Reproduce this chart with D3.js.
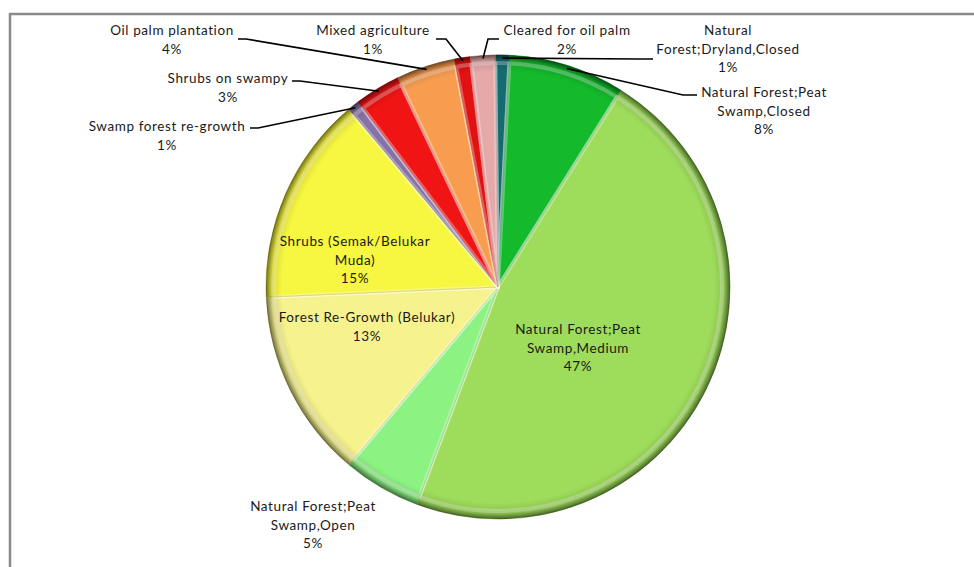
<!DOCTYPE html>
<html>
<head>
<meta charset="utf-8">
<script src="https://cdn.jsdelivr.net/npm/d3@7"></script>
<style>
  body { margin: 0; background: #fff; }
  text { font-family: Lato, "Open Sans", sans-serif; font-size: 13.5px; letter-spacing: 0.6px; fill: #1a1a1a; }
</style>
</head>
<body>
<div id="viz"></div>
<script>
var categories = [
    'Natural Forest;Dryland,Closed',
    'Natural Forest;Peat Swamp,Closed',
    'Natural Forest;Peat Swamp,Medium',
    'Natural Forest;Peat Swamp,Open',
    'Forest Re-Growth (Belukar)',
    'Shrubs (Semak/Belukar Muda)',
    'Swamp forest re-growth',
    'Shrubs on swampy',
    'Oil palm plantation',
    'Mixed agriculture',
    'Cleared for oil palm'
];
var shares = [1.0, 8.1, 46.8, 5.4, 13.2, 14.6, 0.8, 3.2, 4.1, 1.1, 1.7];
var labelLines = [
    ['Natural', 'Forest;Dryland,Closed'],
    ['Natural Forest;Peat', 'Swamp,Closed'],
    ['Natural Forest;Peat', 'Swamp,Medium'],
    ['Natural Forest;Peat', 'Swamp,Open'],
    ['Forest Re-Growth (Belukar)'],
    ['Shrubs (Semak/Belukar', 'Muda)'],
    ['Swamp forest re-growth'],
    ['Shrubs on swampy'],
    ['Oil palm plantation'],
    ['Mixed agriculture'],
    ['Cleared for oil palm']
];
var colors = ['#156b6e', '#14b92c', '#9edc5b', '#8cf383', '#f6f28d', '#f7f640',
              '#8672a6', '#f01414', '#f89d50', '#e01212', '#e4a9a8'];

var width = 974,
    height = 567,
    cx = 498,
    cy = 287,
    radius = 232,
    lineH = 18.5;

// label placement: x, first baseline, leader elbow (null = inside)
var layout = [
    { x: 728, y: 35, leader: [[653, 59], [640, 59]] },
    { x: 764, y: 97, leader: [[697, 95], [683, 95]] },
    { x: 578, y: 334, leader: null },
    { x: 313, y: 511, leader: null },
    { x: 367, y: 322, leader: null },
    { x: 355, y: 246, leader: null },
    { x: 167, y: 131, leader: [[250, 128], [258, 128]] },
    { x: 228, y: 83, leader: [[292, 81], [300, 81]] },
    { x: 172, y: 35, leader: [[238, 39], [246, 39]] },
    { x: 373, y: 35, leader: [[436, 39], [446, 39]] },
    { x: 567, y: 35, leader: [[499, 39], [488, 39]] }
];

var total = d3.sum(shares);
var offset = -0.7 * Math.PI / 180;

var pie = d3.pie()
    .sort(null)
    .startAngle(offset)
    .endAngle(2 * Math.PI + offset)
    .value(function(d) { return d; });

var arcs = pie(shares);

var arc = d3.arc().innerRadius(0).outerRadius(radius);
var arcInner = d3.arc().innerRadius(0).outerRadius(radius - 8);

var svg = d3.select('#viz').append('svg')
    .attr('width', width)
    .attr('height', height);

// frame
svg.append('path')
    .attr('d', 'M10,' + height + 'V14H' + width)
    .attr('fill', 'none')
    .attr('stroke', '#8a8a8a')
    .attr('stroke-width', 2.5);

var defs = svg.append('defs');
// gradient lives in the pie group's coordinates, centred on 0,0
var rim = defs.append('radialGradient')
    .attr('id', 'rim')
    .attr('gradientUnits', 'userSpaceOnUse')
    .attr('cx', 0).attr('cy', 0).attr('r', radius);
rim.append('stop').attr('offset', 0.93).attr('stop-color', '#000').attr('stop-opacity', 0);
rim.append('stop').attr('offset', 0.975).attr('stop-color', '#000').attr('stop-opacity', 0.12);
rim.append('stop').attr('offset', 1).attr('stop-color', '#000').attr('stop-opacity', 0.55);

var g = svg.append('g').attr('transform', 'translate(' + cx + ',' + cy + ')');

var slices = g.selectAll('g.slice').data(arcs)
    .enter().append('g').attr('class', 'slice');

slices.append('path')
    .attr('d', arc)
    .attr('fill', function(d, i) { return colors[i]; })
    .attr('stroke', function(d, i) { return d3.color(colors[i]).darker(0.7); })
    .attr('stroke-width', 0.8);

// bevel: soft light band inside the rim and along the edges
slices.append('path')
    .attr('d', arcInner)
    .attr('fill', 'none')
    .attr('stroke', '#fff')
    .attr('stroke-opacity', 0.3)
    .attr('stroke-width', 4)
    .attr('stroke-linejoin', 'round');

slices.append('path')
    .attr('d', arc)
    .attr('fill', 'url(#rim)');

// leaders
arcs.forEach(function(d, i) {
    var L = layout[i];
    if (!L.leader) return;
    var mid = (d.startAngle + d.endAngle) / 2;
    var end = [cx + (radius - 3) * Math.sin(mid), cy - (radius - 3) * Math.cos(mid)];
    var pts = L.leader.concat([end]);
    svg.append('path')
        .attr('d', d3.line()(pts))
        .attr('fill', 'none')
        .attr('stroke', '#000')
        .attr('stroke-width', 1.6);
});

// labels
arcs.forEach(function(d, i) {
    var L = layout[i];
    var pct = Math.round(d.value / total * 100) + '%';
    var lines = labelLines[i].concat([pct]);
    var t = svg.append('text')
        .attr('text-anchor', 'middle')
        .attr('x', L.x)
        .attr('y', L.y);
    lines.forEach(function(s, k) {
        t.append('tspan')
            .attr('x', L.x)
            .attr('dy', k === 0 ? 0 : lineH)
            .text(s);
    });
});
</script>
</body>
</html>
